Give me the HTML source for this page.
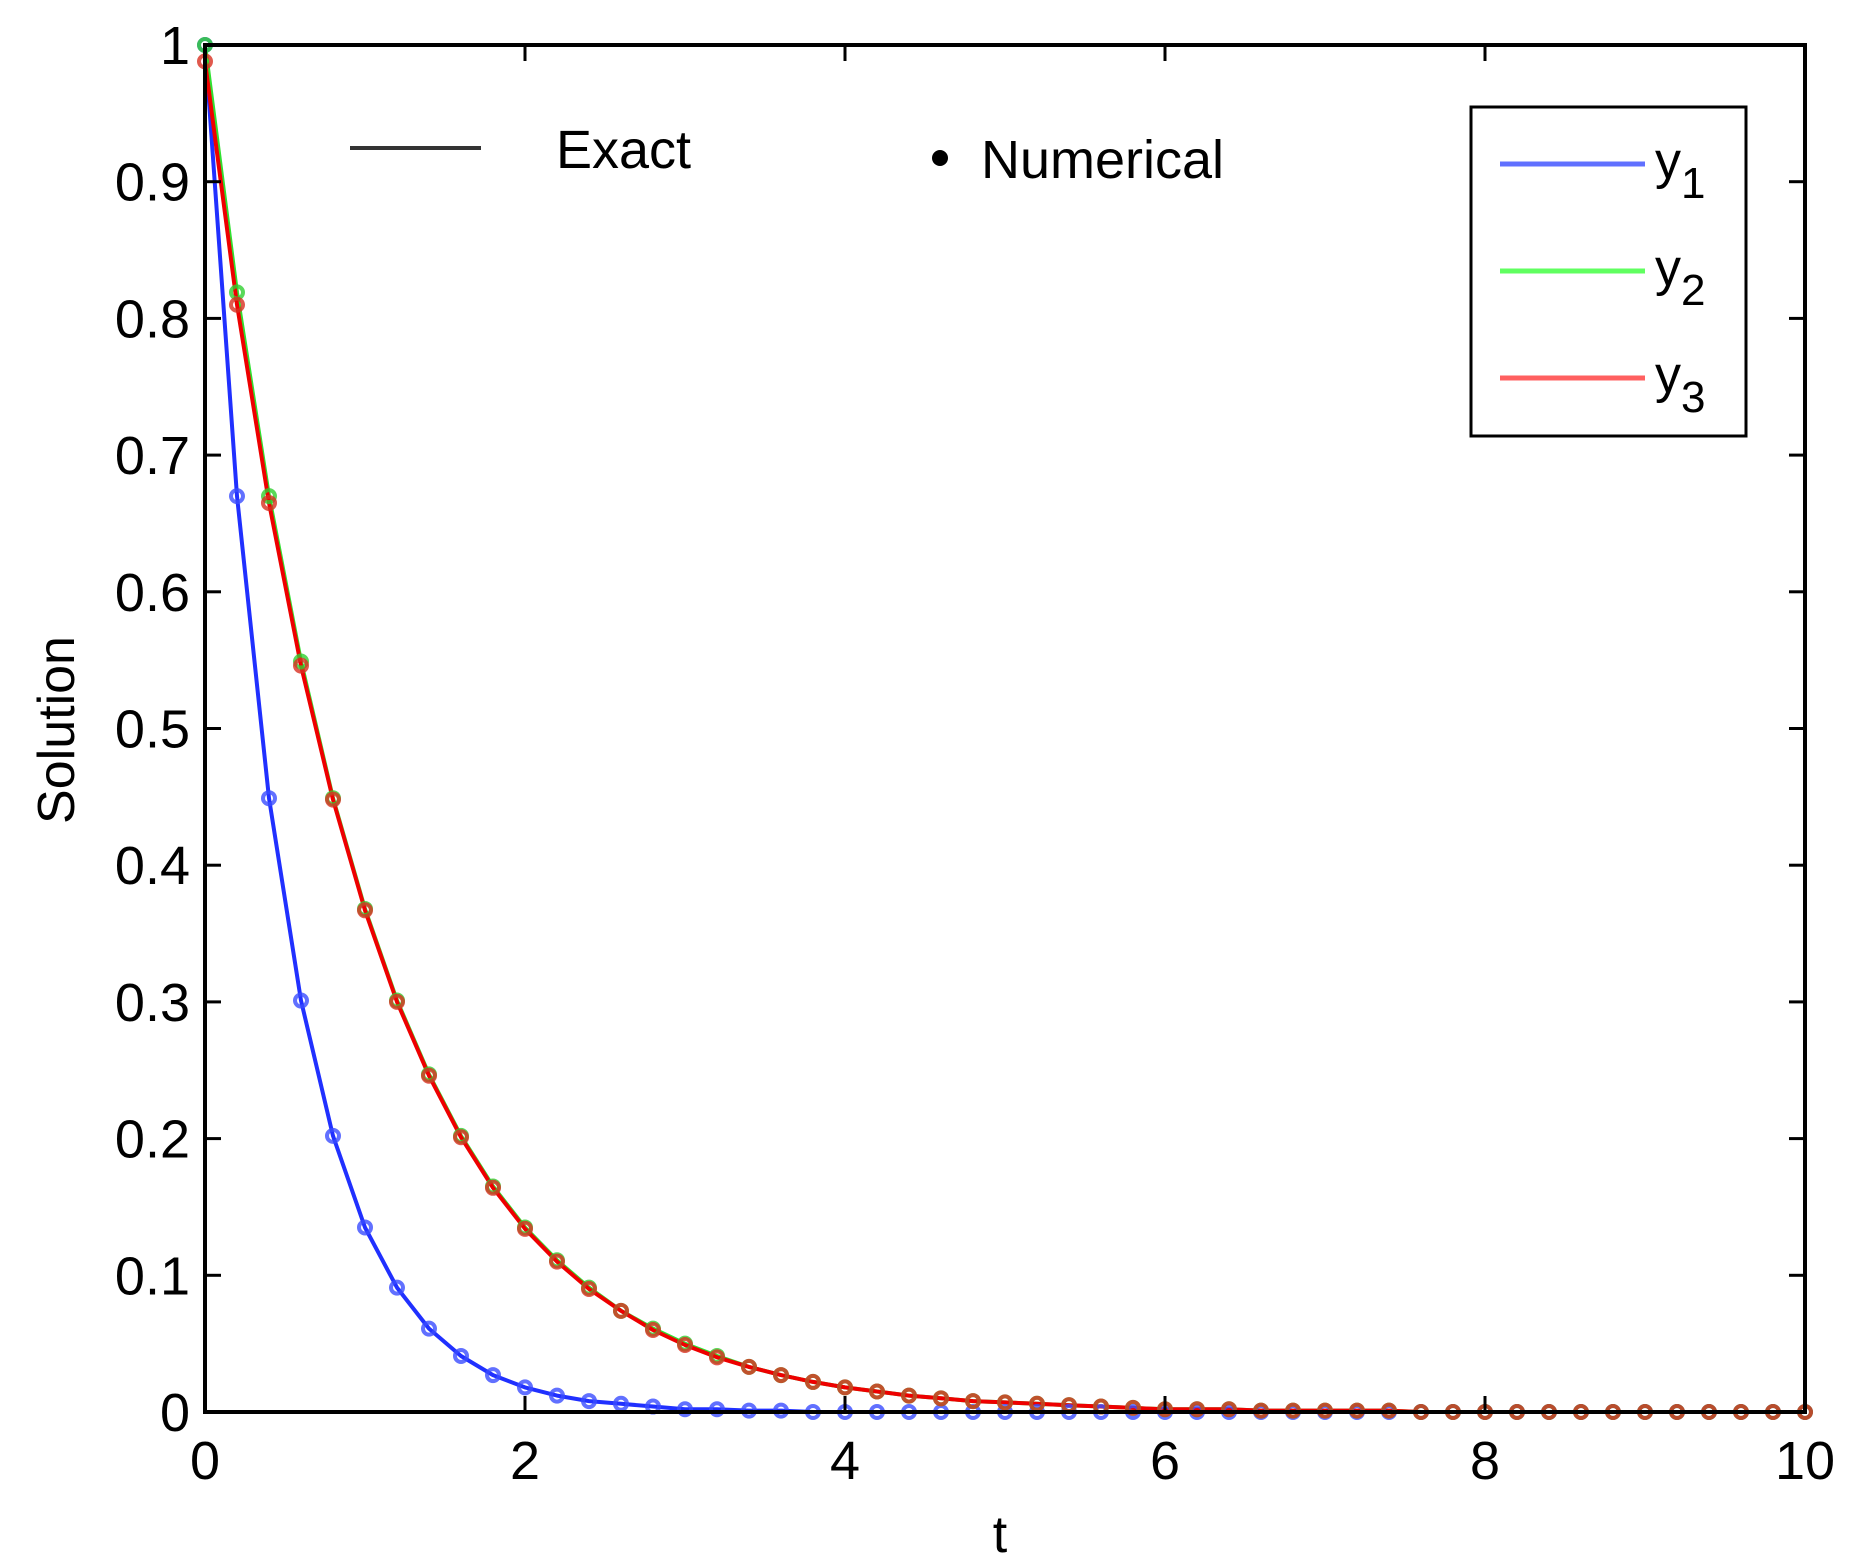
<!DOCTYPE html>
<html><head><meta charset="utf-8"><style>
html,body{margin:0;padding:0;background:#fff;}
svg{display:block;font-family:"Liberation Sans",sans-serif;}
</style></head><body>
<svg id="chart" width="1853" height="1566" viewBox="0 0 1853 1566">
  <rect x="0" y="0" width="1853" height="1566" fill="#fff"/>
  <g id="plot"></g>
  <rect x="205" y="45" width="1600" height="1367" fill="none" stroke="#000" stroke-width="4"/>
  <g id="ticks"></g>
  <text x="1000" y="1552" font-size="52" text-anchor="middle">t</text>
  <text transform="translate(74,730) rotate(-90)" font-size="52" text-anchor="middle">Solution</text>
  <g>
    <line x1="350" y1="148" x2="481" y2="148" stroke="#333" stroke-width="4"/>
    <text x="556" y="168" font-size="54">Exact</text>
  </g>
  <g>
    <circle cx="940" cy="158" r="8" fill="#000"/>
    <text x="981" y="178" font-size="54">Numerical</text>
  </g>
  <g>
    <rect x="1471" y="107" width="275" height="329" fill="#fff" stroke="#000" stroke-width="3"/>
    <line x1="1500" y1="164" x2="1645" y2="164" stroke="#6070ff" stroke-width="5"/>
    <text x="1655" y="178" font-size="52">y<tspan dy="20" font-size="44">1</tspan></text>
    <line x1="1500" y1="271" x2="1645" y2="271" stroke="#60ff60" stroke-width="5"/>
    <text x="1655" y="285" font-size="52">y<tspan dy="20" font-size="44">2</tspan></text>
    <line x1="1500" y1="378" x2="1645" y2="378" stroke="#ff6060" stroke-width="5"/>
    <text x="1655" y="392" font-size="52">y<tspan dy="20" font-size="44">3</tspan></text>
  </g>
</svg>
<script>
const xTicks = [0, 2, 4, 6, 8, 10];
const xTickLabels = ["0", "2", "4", "6", "8", "10"];
const yTicks = [0, 0.1, 0.2, 0.3, 0.4, 0.5, 0.6, 0.7, 0.8, 0.9, 1];
const yTickLabels = ["0", "0.1", "0.2", "0.3", "0.4", "0.5", "0.6", "0.7", "0.8", "0.9", "1"];
const tValues = [0,0.2,0.4,0.6,0.8,1,1.2,1.4,1.6,1.8,2,2.2,2.4,2.6,2.8,3,3.2,3.4,3.6,3.8,4,4.2,4.4,4.6,4.8,5,5.2,5.4,5.6,5.8,6,6.2,6.4,6.6,6.8,7,7.2,7.4,7.6,7.8,8,8.2,8.4,8.6,8.8,9,9.2,9.4,9.6,9.8,10];
const y1Values = [1,0.670,0.449,0.301,0.202,0.135,0.091,0.061,0.041,0.027,0.018,0.012,0.008,0.006,0.004,0.002,0.002,0.001,0.001,0,0,0,0,0,0,0,0,0,0,0,0,0,0,0,0,0,0,0,0,0,0,0,0,0,0,0,0,0,0,0,0];
const y2Values = [1,0.819,0.670,0.549,0.449,0.368,0.301,0.247,0.202,0.165,0.135,0.111,0.091,0.074,0.061,0.050,0.041,0.033,0.027,0.022,0.018,0.015,0.012,0.010,0.008,0.007,0.006,0.005,0.004,0.003,0.002,0.002,0.002,0.001,0.001,0.001,0.001,0.001,0,0,0,0,0,0,0,0,0,0,0,0,0];
const y3Values = [0.988,0.810,0.665,0.546,0.448,0.367,0.300,0.246,0.201,0.164,0.134,0.110,0.090,0.074,0.060,0.049,0.040,0.033,0.027,0.022,0.018,0.015,0.012,0.010,0.008,0.007,0.006,0.005,0.004,0.003,0.002,0.002,0.002,0.001,0.001,0.001,0.001,0.001,0,0,0,0,0,0,0,0,0,0,0,0,0];

const NS = "http://www.w3.org/2000/svg";
const L = 205, R = 1805, T = 45, B = 1412;
function xs(v){ return L + (v - 0) / 10 * (R - L); }
function ys(v){ return B - (v - 0) / 1 * (B - T); }
function mk(tag, attrs, parent){
  const e = document.createElementNS(NS, tag);
  for (const k in attrs) e.setAttribute(k, attrs[k]);
  parent.appendChild(e);
  return e;
}
const plot = document.getElementById('plot');
const ticks = document.getElementById('ticks');

const series = [
  {vals: y1Values, line: "#2030ff", mark: "#3a4cff", name: "y1"},
  {vals: y2Values, line: "#30e030", mark: "#30d030", name: "y2"},
  {vals: y3Values, line: "#ee0000", mark: "#d83020", name: "y3"}
];
series.forEach(s => {
  const pts = tValues.map((t, i) => xs(t).toFixed(1) + "," + ys(s.vals[i]).toFixed(1)).join(" ");
  const pl = mk('polyline', {points: pts, fill: "none", stroke: s.line, "stroke-width": 4, "stroke-linejoin": "round"}, plot);
  
  
});
series.forEach(s => {
  tValues.forEach((t, i) => {
    const c = mk('circle', {cx: xs(t), cy: ys(s.vals[i]), r: 6, fill: "none", stroke: s.mark, "stroke-width": 4, opacity: 0.8}, plot);
    
    
  });
});

xTicks.forEach((v, i) => {
  const x = xs(v);
  const a = mk('line', {x1: x, y1: B, x2: x, y2: B - 16, stroke: "#000", "stroke-width": 3}, ticks);
  
  
  const b = mk('line', {x1: x, y1: T, x2: x, y2: T + 16, stroke: "#000", "stroke-width": 3}, ticks);
  
  
  const tx = mk('text', {x: x, y: 1479, "font-size": 54, "text-anchor": "middle"}, ticks);
  tx.textContent = xTickLabels[i];
  
  
});
yTicks.forEach((v, i) => {
  const y = ys(v);
  const a = mk('line', {x1: L, y1: y, x2: L + 16, y2: y, stroke: "#000", "stroke-width": 3}, ticks);
  
  
  const b = mk('line', {x1: R, y1: y, x2: R - 16, y2: y, stroke: "#000", "stroke-width": 3}, ticks);
  
  
  const tx = mk('text', {x: 190, y: y + 19, "font-size": 54, "text-anchor": "end"}, ticks);
  tx.textContent = yTickLabels[i];
  
  
});
</script>
</body></html>
